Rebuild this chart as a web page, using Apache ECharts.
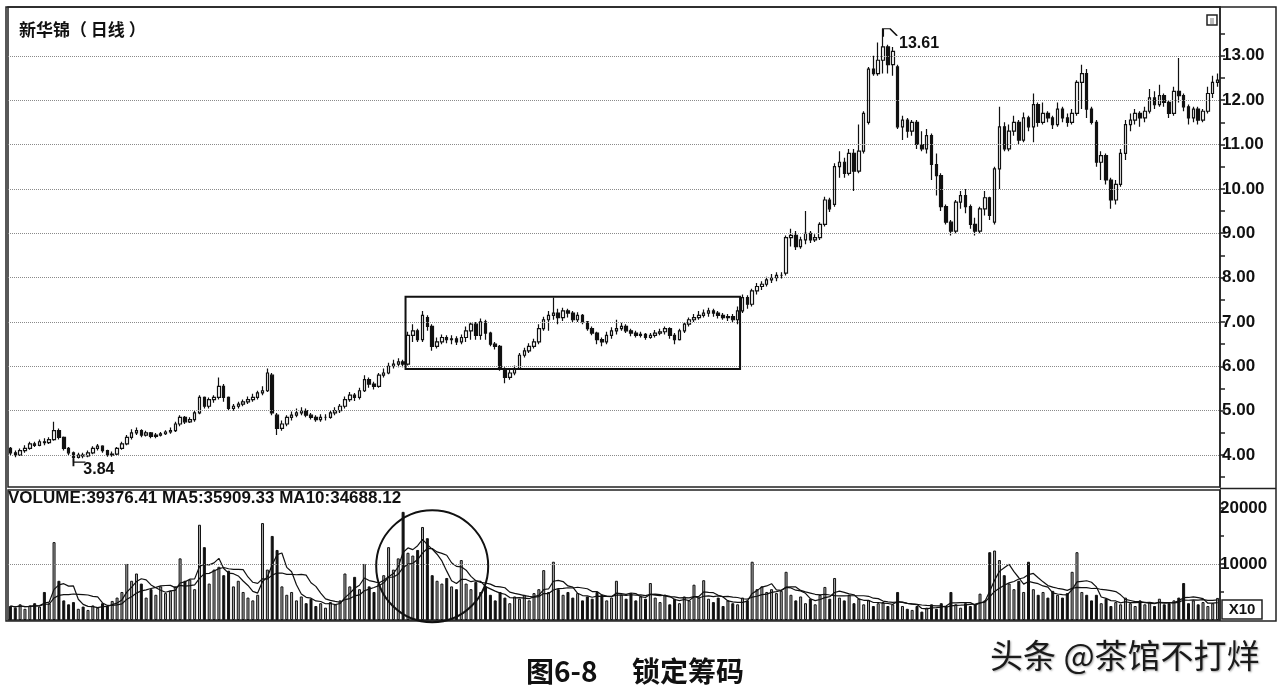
<!DOCTYPE html>
<html><head><meta charset="utf-8">
<script src="https://cdn.jsdelivr.net/npm/echarts@6/dist/echarts.min.js"></script>
<style>html,body{margin:0;padding:0;background:#fff;}#chart{width:1280px;height:692px;}</style>
</head><body><div id="chart"></div>
<script>
// ---------- data ----------
const stockTitle = '新华锦（ 日线 ）';
const volumeInfo = 'VOLUME:39376.41 MA5:35909.33 MA10:34688.12';
const figCaptionA = '图6-8';
const figCaptionB = '锁定筹码';
const watermark = '头条 @茶馆不打烊';

const opens = [
4.15,4.05,4.00,4.10,4.15,4.25,4.22,4.30,4.28,4.35,
4.55,4.40,4.15,4.05,3.95,4.00,3.98,4.05,4.15,4.20,
4.10,4.00,4.02,4.15,4.25,4.40,4.50,4.55,4.45,4.50,
4.42,4.45,4.48,4.52,4.55,4.70,4.85,4.75,4.80,4.95,
5.30,5.10,5.25,5.30,5.55,5.30,5.05,5.10,5.15,5.20,
5.25,5.30,5.40,5.45,5.80,4.90,4.60,4.70,4.85,4.90,
4.95,5.00,4.90,4.85,4.80,4.85,4.85,4.95,5.00,5.10,
5.25,5.35,5.30,5.45,5.70,5.60,5.55,5.80,5.85,6.00,
6.05,6.10,6.05,6.70,6.80,6.60,7.10,6.90,6.45,6.55,
6.65,6.60,6.62,6.55,6.65,6.80,6.95,6.70,7.00,6.75,
6.50,6.45,5.95,5.75,5.85,5.95,6.25,6.35,6.45,6.55,
6.85,7.05,7.15,7.20,7.10,7.25,7.20,7.05,7.15,7.00,
6.85,6.75,6.60,6.55,6.70,6.80,6.85,6.90,6.80,6.75,
6.70,6.72,6.65,6.70,6.75,6.78,6.85,6.70,6.60,6.80,
6.95,7.05,7.10,7.15,7.20,7.25,7.20,7.15,7.10,7.12,
7.05,7.25,7.55,7.40,7.70,7.80,7.85,7.95,8.00,8.05,
8.10,8.90,8.95,8.70,8.85,9.00,8.85,8.90,9.20,9.75,
9.65,10.50,10.60,10.35,10.80,10.40,10.85,11.50,12.70,12.60,
12.90,13.20,12.80,12.75,11.40,11.55,11.30,11.50,11.00,10.90,
11.20,10.55,10.30,9.60,9.25,9.05,9.70,9.85,9.60,9.20,
9.05,9.55,9.80,9.25,10.45,11.40,10.90,11.30,11.50,11.10,
11.60,11.40,11.90,11.50,11.70,11.60,11.45,11.80,11.60,11.50,
11.70,12.40,12.60,11.80,11.50,10.60,10.75,10.20,9.75,10.10,
10.80,11.45,11.55,11.70,11.60,11.75,12.05,11.90,12.10,11.95,
11.70,12.20,12.10,11.85,11.60,11.80,11.55,11.75,12.15,12.40];

const closes = [
4.05,4.00,4.10,4.15,4.25,4.22,4.30,4.28,4.35,4.55,
4.40,4.15,4.05,3.95,4.00,3.98,4.05,4.15,4.20,4.10,
4.00,4.02,4.15,4.25,4.40,4.50,4.55,4.45,4.50,4.42,
4.45,4.48,4.52,4.55,4.70,4.85,4.75,4.80,4.95,5.30,
5.10,5.25,5.30,5.55,5.30,5.05,5.10,5.15,5.20,5.25,
5.30,5.40,5.45,5.85,4.95,4.60,4.70,4.85,4.90,4.95,
5.00,4.90,4.85,4.80,4.85,4.85,4.95,5.00,5.10,5.25,
5.35,5.30,5.45,5.70,5.60,5.55,5.80,5.85,6.00,6.05,
6.10,6.05,6.70,6.80,6.60,7.15,6.90,6.45,6.55,6.65,
6.60,6.62,6.55,6.65,6.80,6.95,6.70,7.00,6.75,6.50,
6.45,5.95,5.75,5.85,5.95,6.25,6.35,6.45,6.55,6.85,
7.05,7.15,7.20,7.10,7.25,7.20,7.05,7.15,7.00,6.85,
6.75,6.60,6.55,6.70,6.80,6.85,6.90,6.80,6.75,6.70,
6.72,6.65,6.70,6.75,6.78,6.85,6.70,6.60,6.80,6.95,
7.05,7.10,7.15,7.20,7.25,7.20,7.15,7.10,7.12,7.05,
7.25,7.55,7.40,7.70,7.80,7.85,7.95,8.00,8.05,8.05,
8.90,8.95,8.70,8.85,9.00,8.85,8.90,9.20,9.75,9.55,
10.50,10.60,10.35,10.80,10.40,10.85,11.70,12.70,12.60,12.90,
13.20,12.80,13.10,11.40,11.55,11.30,11.50,11.00,10.90,11.20,
10.55,10.30,9.60,9.25,9.05,9.70,9.85,9.60,9.20,9.05,
9.55,9.80,9.40,10.45,11.40,10.90,11.30,11.50,11.10,11.60,
11.40,11.90,11.50,11.70,11.60,11.45,11.80,11.60,11.50,11.70,
12.40,12.60,11.80,11.50,10.60,10.75,10.20,9.75,10.10,10.80,
11.45,11.55,11.70,11.60,11.75,12.05,11.90,12.10,11.95,11.70,
12.20,12.10,11.85,11.60,11.80,11.55,11.75,12.15,12.40,12.45];

const lows = [
4.00,3.95,3.98,4.05,4.12,4.18,4.20,4.22,4.25,4.32,
4.35,4.10,4.00,3.84,3.92,3.93,3.95,4.02,4.10,4.05,
3.96,3.96,4.00,4.12,4.22,4.35,4.45,4.40,4.42,4.38,
4.38,4.42,4.45,4.48,4.52,4.65,4.70,4.72,4.75,4.92,
5.05,5.05,5.18,5.25,5.20,5.00,5.00,5.05,5.10,5.15,
5.20,5.25,5.35,5.42,4.90,4.45,4.55,4.65,4.78,4.85,
4.90,4.85,4.80,4.75,4.75,4.78,4.82,4.90,4.95,5.05,
5.20,5.22,5.25,5.42,5.52,5.48,5.52,5.75,5.82,5.95,
5.98,5.98,6.02,6.55,6.55,6.55,6.80,6.35,6.40,6.50,
6.52,6.50,6.48,6.50,6.55,6.60,6.60,6.60,6.60,6.45,
6.38,5.90,5.62,5.70,5.80,5.92,6.20,6.30,6.40,6.50,
6.80,6.80,7.05,6.95,7.02,7.10,7.00,7.00,6.95,6.80,
6.70,6.50,6.45,6.50,6.62,6.72,6.80,6.75,6.68,6.65,
6.65,6.60,6.62,6.65,6.70,6.72,6.62,6.50,6.58,6.75,
6.90,7.00,7.05,7.10,7.12,7.12,7.08,7.05,7.02,6.98,
6.95,7.20,7.30,7.35,7.62,7.72,7.80,7.88,7.92,7.98,
8.05,8.70,8.62,8.65,8.75,8.78,8.80,8.85,9.15,9.48,
9.60,10.25,10.25,10.30,9.95,10.35,10.80,11.45,12.55,12.55,
12.60,12.60,12.55,11.35,11.10,11.15,11.20,10.90,10.85,10.80,
10.20,9.85,9.50,9.20,8.95,9.00,9.55,9.45,9.10,8.95,
9.00,9.40,9.30,9.20,10.00,10.85,10.85,11.20,11.00,11.05,
11.30,11.05,11.40,11.45,11.50,11.35,11.40,11.50,11.40,11.45,
11.65,11.80,11.60,11.45,10.50,10.20,10.10,9.55,9.65,10.05,
10.65,11.30,11.45,11.40,11.50,11.70,11.80,11.85,11.85,11.60,
11.65,11.95,11.75,11.45,11.50,11.45,11.50,11.70,12.05,12.30];

const highs = [
4.18,4.10,4.15,4.22,4.30,4.30,4.35,4.38,4.40,4.75,
4.60,4.42,4.18,4.08,4.05,4.05,4.10,4.20,4.25,4.22,
4.12,4.08,4.18,4.30,4.45,4.58,4.62,4.58,4.55,4.52,
4.50,4.52,4.56,4.62,4.75,4.90,4.88,4.85,5.00,5.35,
5.32,5.30,5.35,5.75,5.60,5.32,5.15,5.20,5.25,5.32,
5.38,5.45,5.55,5.95,5.85,4.95,4.78,4.90,4.98,5.05,
5.08,5.05,4.95,4.90,4.92,4.92,5.00,5.08,5.15,5.32,
5.42,5.40,5.52,5.80,5.75,5.65,5.85,5.95,6.08,6.15,
6.18,6.15,6.78,6.95,6.85,7.25,7.15,6.95,6.65,6.72,
6.70,6.70,6.68,6.72,6.90,7.00,7.00,7.08,7.05,6.78,
6.55,6.48,5.98,5.92,6.02,6.30,6.42,6.52,6.62,6.95,
7.12,7.25,7.55,7.30,7.32,7.30,7.25,7.22,7.18,7.02,
6.90,6.78,6.65,6.78,6.88,7.05,6.98,6.95,6.85,6.80,
6.78,6.75,6.75,6.82,6.85,6.90,6.88,6.75,6.85,7.00,
7.10,7.18,7.25,7.28,7.32,7.30,7.25,7.20,7.18,7.18,
7.35,7.62,7.60,7.75,7.88,7.92,8.02,8.08,8.12,8.12,
8.95,9.10,9.05,8.92,9.50,9.05,8.98,9.25,9.82,9.80,
10.58,10.85,10.70,10.90,10.90,11.45,11.75,12.75,13.00,13.30,
13.61,13.25,13.20,12.80,11.65,11.60,11.55,11.55,11.30,11.35,
11.25,10.80,10.35,9.65,9.30,9.75,9.95,10.00,9.65,9.35,
9.60,9.95,9.82,10.50,11.85,11.50,11.45,11.65,11.55,11.72,
11.65,12.15,11.95,11.95,11.75,11.65,11.95,11.85,11.70,11.80,
12.45,12.80,12.70,11.85,11.55,10.85,10.80,10.25,10.20,10.90,
11.55,11.70,11.80,11.75,11.85,12.25,12.20,12.35,12.15,12.00,
12.30,12.95,12.15,11.90,11.85,11.85,11.80,12.30,12.55,12.60];

const volumes = [
2500,2200,2800,2000,2600,3000,2400,5000,3000,13900,
7000,3500,2800,3200,2000,2400,1800,2600,2200,3000,
2500,3400,4000,5000,10000,7000,8300,6500,4000,5500,
4500,6000,4800,5200,6000,11000,7000,7200,5500,17000,
13000,6500,9000,9500,8000,8800,6000,7000,5000,4000,
3500,4500,17300,9000,15000,12500,6000,4500,5000,3500,
4200,3000,3800,2500,3000,2200,3200,2800,3500,8300,
6000,7700,5500,10000,6000,5000,6500,8000,13000,9000,
11000,19300,12000,11500,12500,16600,14600,8000,7000,6500,
7500,6000,5500,10700,6500,5500,6800,5000,6000,4500,
3500,5000,4000,3000,4200,3800,4500,3500,4800,5500,
8900,5000,10400,5500,4500,5000,4000,4800,3500,4200,
3800,5000,4500,3500,4000,7000,4500,3800,4800,3500,
4200,3800,6600,4000,3200,4500,2800,3800,3000,4200,
3500,6300,4000,7100,3800,3200,4000,2500,3500,3000,
2800,4000,3500,10400,5500,6000,5000,5500,4800,5200,
8600,4500,3500,4200,3000,3800,2800,4500,5900,3800,
7500,4000,3500,4500,3000,3800,2800,3500,2500,3000,
3200,2500,2800,5000,2500,2000,1800,2500,1500,2200,
2800,2000,3000,2500,5000,2800,2200,3000,2500,2800,
4700,3500,12100,12400,10700,8000,6500,5500,7000,5000,
10400,5500,4500,5000,4000,5200,4500,4000,4800,8600,
12100,5000,4500,3500,4500,3000,3800,2500,3200,2800,
4000,3000,2500,3500,2800,3200,2500,3800,2800,3000,
3500,4000,6600,3000,3500,2800,3200,2500,3000,3940];

const priceLabels = [4,5,6,7,8,9,10,11,12,13];
const priceTicks = [3.5,4,4.5,5,5.5,6,6.5,7,7.5,8,8.5,9,9.5,10,10.5,11,11.5,12,12.5,13,13.5];
const volumeLabels = [10000,20000];
const volumeTicks = [5000,10000,15000,20000];
const volumeGridLines = [10000];

// annotations (in data units)
const highMark = {index: 180, value: 13.61, text: '13.61'};
const lowMark = {index: 13, value: 3.84, text: '3.84'};
const boxRange = {from: 81, to: 150, top: 7.57, bottom: 5.94};
const circleMark = {index: 87, value: 9600};

// ---------- build ----------
const categories = opens.map((_, i) => String(i + 1));
const candleData = opens.map((o, i) => [o, closes[i], lows[i], highs[i]]);
const volData = volumes.map((v, i) => ({
  value: v,
  itemStyle: closes[i] >= opens[i]
    ? {color: '#a8a8a8', borderColor: '#111', borderWidth: 1}
    : {color: '#111', borderColor: '#111', borderWidth: 1}
}));
function movingAvg(n) {
  return volumes.map((v, i) => {
    const s = Math.max(0, i - n + 1);
    let sum = 0;
    for (let k = s; k <= i; k++) sum += volumes[k];
    return +(sum / (i - s + 1)).toFixed(1);
  });
}
const ma5 = movingAvg(5), ma10 = movingAvg(10);

const chart = echarts.init(document.getElementById('chart'), null, {renderer: 'canvas'});
const labelFont = {fontFamily: 'Liberation Sans, Arial, sans-serif', fontWeight: 'bold', fontSize: 17, color: '#111'};
const markFont = {fontFamily: 'Liberation Sans, Arial, sans-serif', fontWeight: 'bold', fontSize: 16, color: '#111'};
const gridLine = {type: 'dotted', color: '#8a8a8a', width: 1};

chart.setOption({
  animation: false,
  backgroundColor: '#fff',
  title: {text: stockTitle, left: 14, top: 16,
    textStyle: {fontFamily: 'Noto Sans CJK SC', fontWeight: 'bold', fontSize: 17, color: '#111'}},
  grid: [
    {left: 8, right: 60, top: 7, height: 480, show: true, borderColor: '#222', borderWidth: 1.5},
    {left: 8, right: 60, top: 490, height: 130, show: true, borderColor: '#222', borderWidth: 1.5}
  ],
  xAxis: [
    {type: 'category', gridIndex: 0, data: categories, boundaryGap: true,
     axisLine: {show: false}, axisTick: {show: false}, axisLabel: {show: false}, splitLine: {show: false}},
    {type: 'category', gridIndex: 1, data: categories, boundaryGap: true,
     axisLine: {show: false}, axisTick: {show: false}, axisLabel: {show: false}, splitLine: {show: false}}
  ],
  yAxis: [
    {type: 'value', gridIndex: 0, position: 'right', min: 3.28, max: 14.1, scale: true,
     axisLine: {show: true, lineStyle: {color: '#222', width: 1.5}},
     axisTick: {show: true, length: 5, customValues: priceTicks, lineStyle: {color: '#222', width: 1.5}},
     axisLabel: Object.assign({customValues: priceLabels, margin: 2, formatter: v => Number(v).toFixed(2)}, labelFont),
     splitLine: {show: false}},
    {type: 'value', gridIndex: 1, position: 'right', min: 0, max: 23200,
     axisLine: {show: true, lineStyle: {color: '#222', width: 1.5}},
     axisTick: {show: true, length: 4, customValues: volumeTicks, lineStyle: {color: '#222', width: 1.5}},
     axisLabel: Object.assign({customValues: volumeLabels, margin: 0, formatter: v => String(v)}, labelFont),
     splitLine: {show: false}}
  ],
  series: [
    {type: 'candlestick', name: 'K', xAxisIndex: 0, yAxisIndex: 0, data: candleData, barWidth: 3,
     itemStyle: {color: '#fff', color0: '#111', borderColor: '#111', borderColor0: '#111', borderWidth: 1.2},
     markLine: {silent: true, symbol: 'none', label: {show: false}, lineStyle: gridLine,
       data: priceLabels.map(v => ({yAxis: v}))},
     markPoint: {silent: true, data: [
       {coord: [highMark.index, highMark.value], symbol: 'path://M0,8 L0,0 L7,0 L14,7', symbolSize: [14, 8],
        symbolOffset: [7, 4], itemStyle: {color: 'rgba(0,0,0,0)', borderColor: '#111', borderWidth: 1.5},
        label: Object.assign({show: true, position: 'right', distance: 1, offset: [0, 11], formatter: highMark.text}, markFont)},
       {coord: [lowMark.index, lowMark.value], symbol: 'path://M0,0 L0,8 M0,4 L12,4', symbolSize: [12, 8],
        symbolOffset: [6, 0], itemStyle: {color: 'rgba(0,0,0,0)', borderColor: '#111', borderWidth: 1.5},
        label: Object.assign({show: true, position: 'right', distance: 0, offset: [-3, 7], formatter: lowMark.text}, markFont)}
     ]}
    },
    {type: 'bar', name: 'VOLUME', xAxisIndex: 1, yAxisIndex: 1, data: volData, barWidth: 3,
     markLine: {silent: true, symbol: 'none', label: {show: false}, lineStyle: gridLine,
       data: volumeGridLines.map(v => ({yAxis: v}))}},
    {type: 'line', name: 'MA5', xAxisIndex: 1, yAxisIndex: 1, data: ma5, symbol: 'none',
     lineStyle: {color: '#111', width: 1.2}},
    {type: 'line', name: 'MA10', xAxisIndex: 1, yAxisIndex: 1, data: ma10, symbol: 'none',
     lineStyle: {color: '#111', width: 1.2}}
  ]
});

// annotations placed through the chart's own scales
const px = (i, v) => chart.convertToPixel({gridIndex: 0}, [i, v]);
const pv = (i, v) => chart.convertToPixel({gridIndex: 1}, [i, v]);
const band = px(1, 5)[0] - px(0, 5)[0];
const bTL = px(boxRange.from, boxRange.top), bBR = px(boxRange.to, boxRange.bottom);
const cC = pv(circleMark.index, circleMark.value);
const gridRight = px(categories.length - 1, 5)[0] + band / 2;
const sepY = px(0, 3.28)[1];

chart.setOption({
  graphic: [
    {type: 'rect', shape: {x: 6, y: 7, width: 1270, height: 614}, style: {fill: 'none', stroke: '#222', lineWidth: 1.5}, silent: true},
    {type: 'line', shape: {x1: gridRight, y1: sepY + 1.5, x2: 1276, y2: sepY + 1.5}, style: {stroke: '#222', lineWidth: 1.5}, silent: true},
    {type: 'rect', shape: {x: bTL[0] + band / 2, y: bTL[1], width: bBR[0] - bTL[0], height: bBR[1] - bTL[1]},
     style: {fill: 'none', stroke: '#111', lineWidth: 2}, silent: true, z: 100},
    {type: 'circle', shape: {cx: cC[0], cy: cC[1], r: 56}, style: {fill: 'none', stroke: '#111', lineWidth: 2}, silent: true, z: 100},
    {type: 'rect', shape: {x: 1207, y: 15, width: 10, height: 10}, style: {fill: '#fff', stroke: '#222', lineWidth: 1.5}, silent: true},
    {type: 'rect', shape: {x: 1210, y: 18, width: 4, height: 6}, style: {fill: '#bbb'}, silent: true},
    {type: 'text', x: 8, y: 490, style: {text: volumeInfo, font: 'bold 17px "Liberation Sans", Arial, sans-serif', fill: '#111'}, silent: true},
    {type: 'rect', shape: {x: 1222, y: 600, width: 40, height: 19}, style: {fill: '#fff', stroke: '#222', lineWidth: 1.5}, silent: true},
    {type: 'text', x: 1242, y: 610, style: {text: 'X10', font: 'bold 15px "Liberation Sans", Arial, sans-serif', fill: '#111', align: 'center', verticalAlign: 'middle'}, silent: true},
    {type: 'text', x: 526, y: 671, style: {text: figCaptionA, font: 'bold 28px "Noto Sans CJK SC"', fill: '#111', verticalAlign: 'middle'}, silent: true},
    {type: 'text', x: 632, y: 671, style: {text: figCaptionB, font: 'bold 28px "Noto Sans CJK SC"', fill: '#111', verticalAlign: 'middle'}, silent: true},
    {type: 'text', x: 990, y: 655, style: {text: watermark, font: '33px "Noto Sans CJK SC"', fill: '#1a1a1a', verticalAlign: 'middle',
      textShadowColor: 'rgba(0,0,0,0.35)', textShadowBlur: 2, textShadowOffsetX: 1, textShadowOffsetY: 1}, silent: true}
  ]
});
</script>
</body></html>
